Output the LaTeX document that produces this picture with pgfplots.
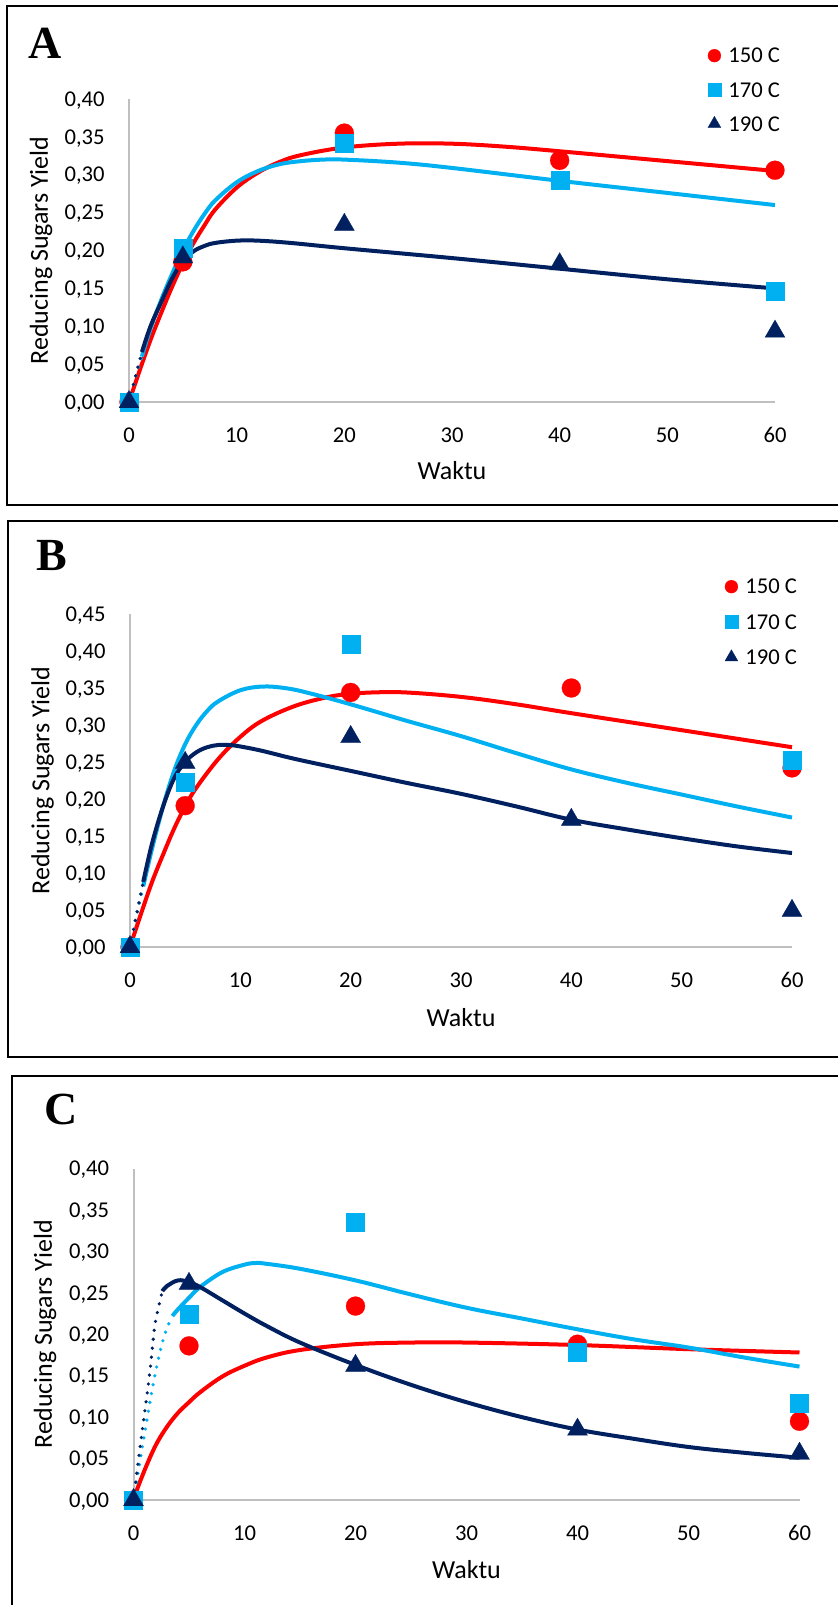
\documentclass[border=0pt]{standalone}
\usepackage{fontspec}
\setmainfont{Carlito}
\newfontfamily\letterfont{Liberation Serif}
\usepackage{pgfplots}
\pgfplotsset{compat=1.18}

\definecolor{c150}{RGB}{255,0,0}
\definecolor{c170}{RGB}{0,176,240}
\definecolor{c190}{RGB}{0,32,96}
\definecolor{axgray}{RGB}{191,191,191}

% one panel of the figure, 1 px of the reference = 0.5pt
\pgfplotsset{
  panel/.style={
    scale only axis, clip=false,
    xmin=0, xmax=60, ymin=0,
    enlargelimits=false,
    axis x line=bottom, axis y line=left,
    axis line style={draw=axgray, line width=1pt, -},
    major tick length=0pt,
    xtick={0,10,20,30,40,50,60},
    /pgf/number format/assume math mode=true,
    tick label style={font=\fontsize{11.3}{13}\selectfont},
    xticklabel style={anchor=center, inner sep=0pt, yshift=-16.5pt},
    yticklabel style={anchor=base east, inner sep=0pt, xshift=-12pt, yshift=-3.6pt,
      /pgf/number format/fixed, /pgf/number format/fixed zerofill,
      /pgf/number format/precision=2, /pgf/number format/use comma},
    label style={font=\fontsize{13}{15}\selectfont},
    xlabel={Waktu}, ylabel={Reducing Sugars Yield},
    legend cell align=left,
    legend style={draw=none, fill=none, inner sep=0pt, column sep=0pt,
      font=\fontsize{11.3}{13}\selectfont, nodes={inner sep=3pt, text depth=0pt}},
  },
  fit/.style={line width=2pt, smooth, tension=0.6, no marks, forget plot},
  dots/.style={line width=1.8pt, line cap=round, dash pattern=on 0pt off 4.5pt, smooth, no marks, forget plot},
  lgmark/.style={legend image code/.code={
      \draw[##1, mark size=#1] plot coordinates {(0pt,0pt)};
      \path[draw=none, fill=none] (-4pt,-4pt) rectangle (4pt,4pt);}},
  m150/.style={only marks, color=c150, mark=*, mark size=4.75pt,
    mark options={solid, fill=c150, draw=c150, line width=0.1pt}, lgmark=3.25pt},
  m170/.style={only marks, color=c170, mark=square*, mark size=4.5pt,
    mark options={solid, fill=c170, draw=c170, line width=0.1pt}, lgmark=3.25pt},
  m190/.style={only marks, color=c190, mark=triangle*, mark size=5.8pt,
    mark options={solid, fill=c190, draw=c190, line width=0.1pt}, lgmark=3.75pt},
}

\begin{document}
\begin{tikzpicture}
\useasboundingbox (0,0) rectangle (419pt,-802.5pt);

% panel frames (right side runs off the page)
\draw[line width=1pt] (420pt,-3pt) -- (3.5pt,-3pt) -- (3.5pt,-252.5pt) -- (420pt,-252.5pt);
\draw[line width=1pt] (420pt,-260.5pt) -- (4pt,-260.5pt) -- (4pt,-528.5pt) -- (420pt,-528.5pt);
\draw[line width=1pt] (420pt,-538pt) -- (6pt,-538pt) -- (6pt,-804pt);

\node[font=\letterfont\bfseries\fontsize{23}{25}\selectfont] at (22.75pt,-21.75pt) {A};
\node[font=\letterfont\bfseries\fontsize{23}{25}\selectfont] at (26pt,-277.75pt) {B};
\node[font=\letterfont\bfseries\fontsize{23}{25}\selectfont] at (30.5pt,-554.75pt) {C};

% ---------------- A ----------------
\begin{axis}[panel, at={(64.5pt,-201pt)}, anchor=south west,
  width=323pt, height=151.5pt, ymax=0.4,
  ytick={0,0.05,0.1,0.15,0.2,0.25,0.3,0.35,0.4},
  xlabel style={at={(axis description cs:0.5,-0.2277)}, anchor=center},
  ylabel style={at={(axis description cs:-0.1362,0.5)}, anchor=center},
  legend style={at={(0.8932,1.1884)}, anchor=north west, row sep=3.7pt},
]
\addplot[fit, c150] coordinates {
  (0,0) (1,0.042) (2,0.082) (3,0.118) (4,0.152) (5,0.183) (6,0.21) (7,0.233)
  (8,0.254) (10,0.283) (12,0.303) (14,0.317) (16,0.326) (20,0.336) (25,0.341)
  (30,0.341) (35,0.337) (40,0.331) (50,0.318) (60,0.305)};
\addplot[fit, c170] coordinates {
  (1.2,0.06) (2,0.097) (3,0.135) (4,0.169) (5,0.2) (6,0.226) (7,0.248)
  (8,0.266) (10,0.29) (12,0.305) (14,0.314) (16,0.318) (18,0.32) (20,0.32)
  (25,0.316) (30,0.309) (40,0.292) (50,0.276) (60,0.26)};
\addplot[dots, c170] coordinates {(0,0) (0.6,0.032) (1.2,0.06)};
\addplot[fit, c190] coordinates {
  (1.2,0.066) (2,0.1) (3,0.132) (4,0.163) (5,0.186) (6,0.199) (7,0.206) (8,0.21)
  (10,0.213) (12,0.213) (15,0.21) (20,0.203) (30,0.19) (40,0.176) (50,0.162) (60,0.15)};
\addplot[dots, c190] coordinates {(0,0) (0.6,0.034) (1.2,0.066)};

\addplot[m150] coordinates {(0,0) (5,0.185) (20,0.355) (40,0.319) (60,0.306)};
\addlegendentry{150 C}
\addplot[m170] coordinates {(0,0) (5,0.203) (20,0.342) (40,0.293) (60,0.146)};
\addlegendentry{170 C}
\addplot[m190] coordinates {(0,0) (5,0.191) (20,0.234) (40,0.182) (60,0.093)};
\addlegendentry{190 C}
\end{axis}

% ---------------- B ----------------
\begin{axis}[panel, at={(65pt,-473.5pt)}, anchor=south west,
  width=331pt, height=166.5pt, ymax=0.45,
  ytick={0,0.05,0.1,0.15,0.2,0.25,0.3,0.35,0.4,0.45},
  xlabel style={at={(axis description cs:0.5,-0.2132)}, anchor=center},
  ylabel style={at={(axis description cs:-0.1319,0.5)}, anchor=center},
  legend style={at={(0.8958,1.1234)}, anchor=north west, row sep=4.3pt},
]
\addplot[fit, c150] coordinates {
  (0,0) (1,0.045) (2,0.088) (3,0.125) (4,0.16) (5,0.19) (6,0.215) (8,0.254)
  (10,0.284) (12,0.306) (15,0.326) (18,0.338) (20,0.342) (22,0.344) (25,0.344)
  (30,0.338) (35,0.328) (40,0.316) (50,0.293) (60,0.27)};
\addplot[fit, c170] coordinates {
  (1.2,0.082) (2,0.133) (3,0.19) (4,0.238) (5,0.274) (6,0.3) (7,0.319) (8,0.332)
  (10,0.347) (12,0.352) (14,0.35) (16,0.344) (20,0.328) (25,0.306) (30,0.285)
  (35,0.262) (40,0.24) (45,0.222) (50,0.206) (55,0.19) (60,0.175)};
\addplot[dots, c170] coordinates {(0,0) (0.6,0.041) (1.2,0.082)};
\addplot[fit, c190] coordinates {
  (1.2,0.088) (2,0.14) (3,0.19) (4,0.228) (5,0.25) (6,0.263) (7,0.27) (8,0.273)
  (9,0.273) (10,0.271) (12,0.265) (15,0.254) (20,0.238) (25,0.222) (30,0.207)
  (35,0.19) (40,0.172) (45,0.159) (50,0.147) (55,0.136) (60,0.127)};
\addplot[dots, c190] coordinates {(0,0) (0.6,0.045) (1.2,0.088)};

\addplot[m150] coordinates {(0,0) (5,0.191) (20,0.344) (40,0.35) (60,0.242)};
\addlegendentry{150 C}
\addplot[m170] coordinates {(0,0) (5,0.223) (20,0.41) (60,0.253)};
\addlegendentry{170 C}
\addplot[m190] coordinates {(0,0) (5,0.249) (20,0.284) (40,0.172) (60,0.049)};
\addlegendentry{190 C}
\end{axis}

% ---------------- C ----------------
\begin{axis}[panel, at={(66.75pt,-750pt)}, anchor=south west,
  width=333pt, height=165.75pt, ymax=0.4,
  ytick={0,0.05,0.1,0.15,0.2,0.25,0.3,0.35,0.4},
  xlabel style={at={(axis description cs:0.5,-0.2112)}, anchor=center},
  ylabel style={at={(axis description cs:-0.1329,0.5)}, anchor=center},
]
\addplot[fit, c150] coordinates {
  (0.1,0.005) (1,0.036) (2,0.066) (3,0.088) (4,0.105) (5,0.118) (6,0.13) (8,0.149)
  (10,0.162) (12,0.172) (15,0.181) (20,0.188) (25,0.19) (30,0.19)
  (40,0.187) (50,0.182) (60,0.178)};
\addplot[dots, c170] coordinates {(0,0) (0.5,0.04) (1,0.08) (1.5,0.12) (2,0.155) (2.5,0.185) (3,0.207) (3.5,0.222)};
\addplot[fit, c170] coordinates {
  (3.5,0.222) (4,0.23) (5,0.244) (6,0.257) (8,0.275) (10,0.284) (11,0.286)
  (12,0.285) (15,0.279) (20,0.265) (25,0.248) (30,0.232) (35,0.219) (40,0.206)
  (45,0.194) (50,0.184) (55,0.172) (60,0.161)};
\addplot[dots, c190] coordinates {(0,0) (0.4,0.044) (0.75,0.08) (1.46,0.153) (1.94,0.212) (2.6,0.252)};
\addplot[fit, c190] coordinates {
  (2.6,0.252) (3,0.258) (4,0.265) (5,0.263) (6,0.257) (8,0.241) (10,0.225)
  (12,0.21) (15,0.19) (20,0.163) (25,0.139) (30,0.118) (35,0.1) (40,0.085)
  (45,0.074) (50,0.064) (55,0.057) (60,0.051)};

\addplot[m150] coordinates {(0,0) (5,0.186) (20,0.234) (40,0.188) (60,0.095)};
\addplot[m170] coordinates {(0,0) (5,0.224) (20,0.335) (40,0.179) (60,0.117)};
\addplot[m190] coordinates {(0,0) (5,0.261) (20,0.162) (40,0.085) (60,0.056)};
\end{axis}
\end{tikzpicture}
\end{document}
